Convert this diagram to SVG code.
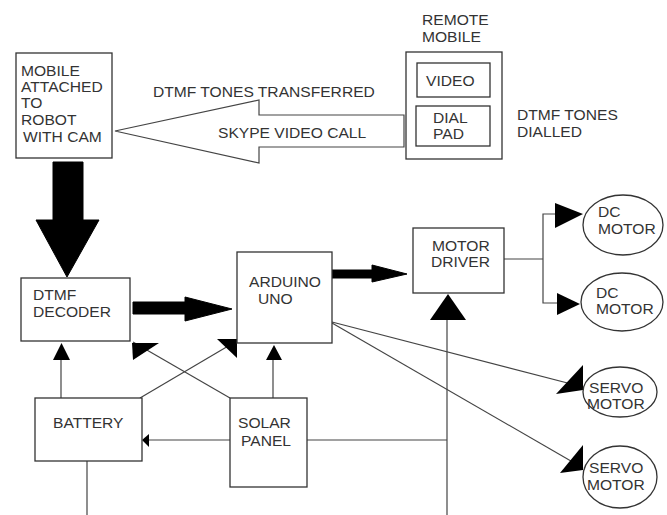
<svg xmlns="http://www.w3.org/2000/svg" width="667" height="515" viewBox="0 0 667 515">
<style>
.box{fill:#fff;stroke:#333;stroke-width:1.3}
.ln{fill:none;stroke:#444;stroke-width:1.2}
.hd{fill:#000;stroke:none}
.blk{fill:#000;stroke:#000;stroke-width:1}
text{font-family:"Liberation Sans",Arial,sans-serif;font-size:15px;fill:#333}
</style>
<rect width="667" height="515" fill="#fff"/>
<g id="connectors">
<polygon points="115,131 259,100 259,115 404,115 404,147 259,147 259,163" fill="#fff" stroke="#444" stroke-width="1.2"/>
<polygon class="blk" points="53,162 83,162 83,220 99,220 67,277 36,220 53,220"/>
<polygon class="blk" points="133,302 185,302 185,297 232,309 185,321 185,314 133,314"/>
<polygon class="blk" points="332,270 372,270 372,265 407,274 372,282 372,278 332,278"/>
<line class="ln" x1="61" y1="398" x2="61" y2="360"/>
<polygon class="hd" points="53,360 70,360 61.5,343"/>
<line class="ln" x1="273" y1="398" x2="273" y2="360"/>
<polygon class="hd" points="266,360 282,360 274,345"/>
<line class="ln" x1="447" y1="515" x2="447" y2="320"/>
<polygon class="hd" points="430,320 466,320 448,294"/>
<line class="ln" x1="230" y1="440" x2="149" y2="440"/>
<polygon class="hd" points="149,434 149,447 142,440"/>
<line class="ln" x1="307" y1="440" x2="447" y2="440"/>
<line class="ln" x1="87" y1="461" x2="87" y2="515"/>
<line class="ln" x1="140" y1="398" x2="235" y2="342"/>
<line class="ln" x1="230" y1="398" x2="133" y2="342"/>
<polygon class="hd" points="132,343 159,343 133,360"/>
<polygon class="hd" points="217,339 237,339 237,358"/>
<line class="ln" x1="332" y1="322" x2="583" y2="387"/>
<line class="ln" x1="332" y1="323" x2="583" y2="468"/>
<polygon class="hd" points="556,394 583,365 583,390"/>
<polygon class="hd" points="560,473 583,445 583,470"/>
<polyline class="ln" points="504,259 543,259"/>
<polyline class="ln" points="555,214 543,214 543,303 557,303"/>
<polygon class="hd" points="555,203 555,228 583,214"/>
<polygon class="hd" points="557,293 557,315 580,304"/>
</g>
<g id="mobile-robot">
<rect class="box" x="16" y="53" width="96" height="105"/>
<text transform="translate(21 76) scale(1.04 1)">MOBILE</text>
<text transform="translate(21 92) scale(1.04 1)">ATTACHED</text>
<text transform="translate(21 108) scale(1.04 1)">TO</text>
<text transform="translate(21 125) scale(1.04 1)">ROBOT</text>
<text transform="translate(23 142) scale(1.04 1)">WITH CAM</text>
</g>
<g id="link-labels">
<text transform="translate(153 97) scale(1.04 1)">DTMF TONES TRANSFERRED</text>
<text transform="translate(218 138) scale(1.04 1)">SKYPE VIDEO CALL</text>
</g>
<g id="remote-mobile">
<text transform="translate(422 25) scale(1.04 1)">REMOTE</text>
<text transform="translate(422 42) scale(1.04 1)">MOBILE</text>
<rect class="box" x="406" y="52" width="96" height="107"/>
<rect class="box" x="417" y="63" width="73" height="34"/>
<text transform="translate(426 86) scale(1.04 1)">VIDEO</text>
<rect class="box" x="416" y="106" width="74" height="40"/>
<text transform="translate(433 123) scale(1.04 1)">DIAL</text>
<text transform="translate(433 139) scale(1.04 1)">PAD</text>
</g>
<g id="dtmf-dialled">
<text transform="translate(517 120) scale(1.04 1)">DTMF TONES</text>
<text transform="translate(517 137) scale(1.04 1)">DIALLED</text>
</g>
<g id="dtmf-decoder">
<rect class="box" x="21" y="278" width="109" height="63"/>
<text transform="translate(33 300) scale(1.04 1)">DTMF</text>
<text transform="translate(33 317) scale(1.04 1)">DECODER</text>
</g>
<g id="arduino">
<rect class="box" x="237" y="252" width="95" height="91"/>
<text transform="translate(249 287) scale(1.04 1)">ARDUINO</text>
<text transform="translate(258 304) scale(1.04 1)">UNO</text>
</g>
<g id="motor-driver">
<rect class="box" x="413" y="228" width="91" height="65"/>
<text transform="translate(432 251) scale(1.04 1)">MOTOR</text>
<text transform="translate(431 267) scale(1.04 1)">DRIVER</text>
</g>
<g id="battery">
<rect class="box" x="35" y="398" width="107" height="63"/>
<text transform="translate(53 428) scale(1.04 1)">BATTERY</text>
</g>
<g id="solar-panel">
<rect class="box" x="230" y="398" width="77" height="89"/>
<text transform="translate(238 428) scale(1.04 1)">SOLAR</text>
<text transform="translate(241 446) scale(1.04 1)">PANEL</text>
</g>
<g id="dc-motor-1">
<ellipse class="box" cx="623" cy="225" rx="40" ry="30"/>
<text transform="translate(598 217) scale(1.04 1)">DC</text>
<text transform="translate(598 234) scale(1.04 1)">MOTOR</text>
</g>
<g id="dc-motor-2">
<ellipse class="box" cx="622" cy="302" rx="41" ry="29"/>
<text transform="translate(596 298) scale(1.04 1)">DC</text>
<text transform="translate(596 314) scale(1.04 1)">MOTOR</text>
</g>
<g id="servo-motor-1">
<ellipse class="box" cx="620" cy="392" rx="37" ry="25"/>
<text transform="translate(589 393) scale(1.04 1)">SERVO</text>
<text transform="translate(587 409) scale(1.04 1)">MOTOR</text>
</g>
<g id="servo-motor-2">
<ellipse class="box" cx="620" cy="477" rx="37" ry="31"/>
<text transform="translate(589 473) scale(1.04 1)">SERVO</text>
<text transform="translate(587 490) scale(1.04 1)">MOTOR</text>
</g>
</svg>
